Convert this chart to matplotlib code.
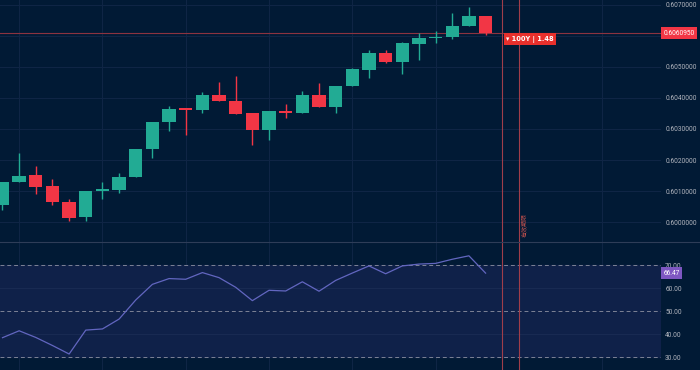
import matplotlib
matplotlib.use("Agg")
import matplotlib.pyplot as plt
import matplotlib.transforms as mtransforms
from matplotlib.lines import Line2D

# ---------------- data ----------------
opens = [0.60055, 0.60129, 0.60151, 0.60115, 0.60065, 0.60015, 0.60100, 0.60104, 0.60144, 0.60236,
         0.60323, 0.60367, 0.60360, 0.60409, 0.60391, 0.60351, 0.60297, 0.60358, 0.60352, 0.60410,
         0.60370, 0.60439, 0.60490, 0.60546, 0.60517, 0.60574, 0.60594, 0.60596, 0.60632, 0.60665]
highs = [0.60129, 0.60224, 0.60181, 0.60139, 0.60075, 0.60100, 0.60130, 0.60157, 0.60236, 0.60324,
         0.60374, 0.60369, 0.60418, 0.60451, 0.60472, 0.60351, 0.60357, 0.60380, 0.60423, 0.60447,
         0.60440, 0.60498, 0.60555, 0.60555, 0.60582, 0.60609, 0.60617, 0.60673, 0.60695, 0.60665]
lows = [0.60039, 0.60129, 0.60090, 0.60055, 0.60004, 0.60004, 0.60073, 0.60095, 0.60144, 0.60208,
        0.60294, 0.60281, 0.60353, 0.60389, 0.60349, 0.60248, 0.60265, 0.60335, 0.60352, 0.60370,
        0.60353, 0.60439, 0.60466, 0.60514, 0.60477, 0.60523, 0.60578, 0.60590, 0.60632, 0.60603]
closes = [0.60129, 0.60149, 0.60113, 0.60064, 0.60014, 0.60100, 0.60106, 0.60145, 0.60236, 0.60324,
          0.60365, 0.60360, 0.60409, 0.60389, 0.60349, 0.60297, 0.60357, 0.60353, 0.60410, 0.60370,
          0.60440, 0.60493, 0.60546, 0.60516, 0.60577, 0.60595, 0.60598, 0.60632, 0.60665, 0.606095]
rsi = [38.4, 41.4, 38.5, 35.0, 31.3, 41.7, 42.2, 46.5, 54.8, 61.6,
       64.1, 63.8, 66.7, 64.5, 60.3, 54.5, 59.0, 58.7, 62.7, 58.6,
       63.3, 66.5, 69.6, 66.2, 69.6, 70.4, 70.7, 72.5, 74.0, 66.47]
price_ticks = [0.600, 0.601, 0.602, 0.603, 0.604, 0.605, 0.606, 0.607]
price_labels = ["0.6000000", "0.6010000", "0.6020000", "0.6030000", "0.6040000",
                "0.6050000", "", "0.6070000"]
rsi_ticks = [30, 40, 50, 60, 70]
last_price = 0.6060950
last_rsi = 66.47
marker_idx = [30, 31]
order_label = "\u25be 100Y | 1.48"
expiry_label = "有效期限"

# ---------------- style ----------------
BG = "#011a35"
BAND = "#0f2149"
GRID = "#0f2545"
UP = "#22ab94"
DOWN = "#f23645"
TXT = "#b2b5be"
LINE_RED = "#a03e4a"

W, H = 700, 370
fig = plt.figure(figsize=(7, 3.7), dpi=100, facecolor=BG)
plot_w = 661 / W
ax1 = fig.add_axes([0, 128 / H, plot_w, 242 / H], facecolor=BG)
ax2 = fig.add_axes([0, 0, plot_w, 128 / H], facecolor=BG)

xmin, xmax = -0.15, 39.53
n = len(opens)
xs = list(range(n))

for ax in (ax1, ax2):
    ax.set_xlim(xmin, xmax)
    for s in ax.spines.values():
        s.set_visible(False)
    ax.set_xticks([])
    ax.yaxis.tick_right()
    ax.tick_params(axis="y", length=0, pad=3, labelsize=4.7, labelcolor=TXT)
    for v in [1, 6, 11, 16, 21, 26, 31, 36]:
        ax.axvline(v, color=GRID, lw=0.8, zorder=0)

# ---- price pane ----
ax1.set_ylim(0.599355, 0.607161)
ax1.set_yticks(price_ticks)
ax1.set_yticklabels(price_labels, family="Roboto")
for t in price_ticks:
    ax1.axhline(t, color=GRID, lw=0.8, zorder=0)

bw = 0.8
for i in xs:
    o, h, l, c = opens[i], highs[i], lows[i], closes[i]
    col = UP if c >= o else DOWN
    ax1.vlines(i, l, h, color=col, lw=1.0, zorder=2)
    bot = min(o, c)
    hgt = max(abs(c - o), 0.00002)
    ax1.bar(i, hgt, bottom=bot, width=bw, color=col, edgecolor="none", zorder=3)

ax1.axhline(last_price, color="#8c3340", lw=0.8, zorder=1)
for v in marker_idx:
    ax1.axvline(v, color=LINE_RED, lw=0.8, zorder=4)
    ax2.axvline(v, color=LINE_RED, lw=0.8, zorder=4)

tr1 = mtransforms.blended_transform_factory(ax1.transAxes, ax1.transData)
ax1.text(1.004, last_price, "%.7f" % last_price, transform=tr1, ha="left", va="center",
         fontsize=4.7, family="Roboto", color="white", clip_on=False,
         bbox=dict(boxstyle="square,pad=0.35", fc=DOWN, ec="none"), zorder=6)

ax1.annotate(order_label, xy=(marker_idx[0], last_price), xytext=(3, -2),
             textcoords="offset points", ha="left", va="top", fontsize=4.8,
             fontweight="bold", color="white", family=["DejaVu Sans", "Noto Sans CJK SC"],
             bbox=dict(boxstyle="square,pad=0.35", fc="#e8302c", ec="none"), zorder=7)

ax1.text(marker_idx[1] + 0.15, 0.599903, expiry_label, rotation=90, ha="left", va="center",
         fontsize=4.3, color="#c0504d", family=["Noto Sans CJK SC", "DejaVu Sans"], zorder=6)

# ---- RSI pane ----
ax2.set_ylim(24.35, 80)
ax2.set_yticks(rsi_ticks)
ax2.set_yticklabels(["%.2f" % t for t in rsi_ticks], family="Roboto")
ax2.axhspan(30, 70, color=BAND, zorder=0)
for t in [40, 60]:
    ax2.axhline(t, color="#182a52", lw=0.8, zorder=0.5)
for t in [30, 50, 70]:
    ax2.axhline(t, color="#7d8396", lw=0.7, ls=(0, (4, 3)), zorder=1)
ax2.plot(xs, rsi, color="#6266c0", lw=0.9, zorder=3)

tr2 = mtransforms.blended_transform_factory(ax2.transAxes, ax2.transData)
ax2.text(1.004, last_rsi, "%.2f" % last_rsi, transform=tr2, ha="left", va="center",
         fontsize=4.7, family="Roboto", color="white", clip_on=False,
         bbox=dict(boxstyle="square,pad=0.35", fc="#7e57c2", ec="none"), zorder=6)

# pane separator
fig.add_artist(Line2D([0, 1], [128 / H, 128 / H], transform=fig.transFigure,
                      color="#2e3d58", lw=0.8))

fig.savefig("out.png", dpi=100, facecolor=BG)
